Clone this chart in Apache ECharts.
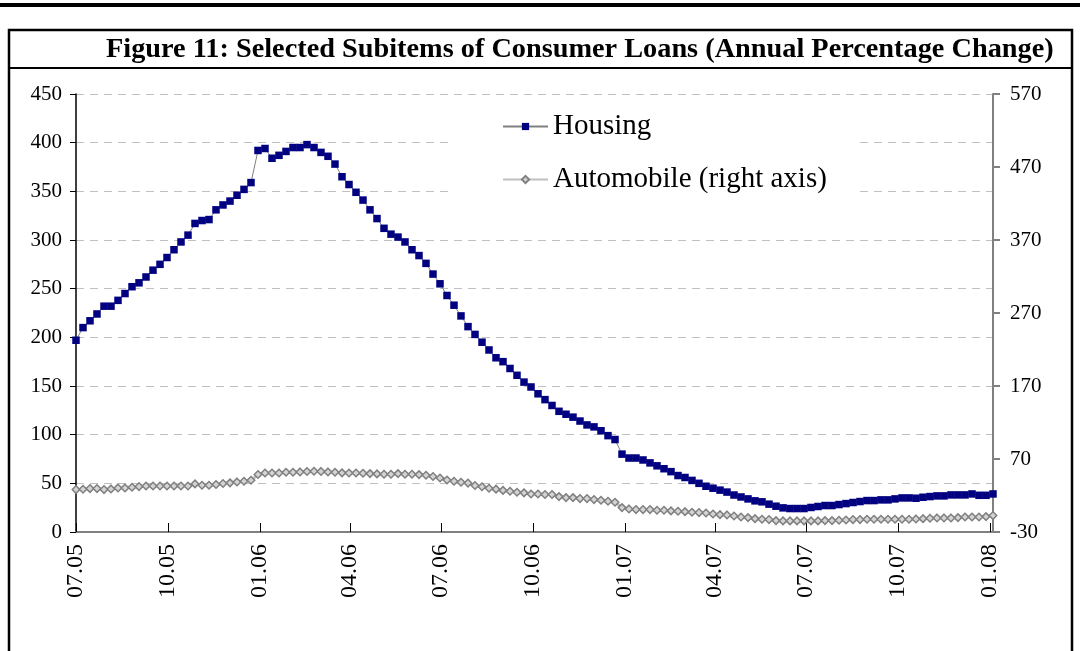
<!DOCTYPE html>
<html><head><meta charset="utf-8">
<script src="https://cdn.jsdelivr.net/npm/echarts@6/dist/echarts.min.js"></script>
<style>html,body{margin:0;padding:0;background:#fff}#c{width:1080px;height:651px}</style>
</head><body><div id="c"></div>
<script>
// Weekly observations starting at this date
const startDate = '2005-07-01';
const tickDates = ['2005-07-01','2005-10-01','2006-01-01','2006-04-01','2006-07-01','2006-10-01','2007-01-01','2007-04-01','2007-07-01','2007-10-01','2008-01-01'];
const tickLabels = ['07.05','10.05','01.06','04.06','07.06','10.06','01.07','04.07','07.07','10.07','01.08'];
const seriesNames = ['Housing', 'Automobile (right axis)'];
const housing = [
  197,210,217,224,232,232,238,245,252,256,262,269,275,282,290,298,305,317,320,321,331,336,340,346,352,359,392,394,384,387,391,395,395,
  398,395,390,386,378,365,357,349,341,331,322,312,306,303,298,290,284,276,265,255,243,233,222,211,203,195,187,179,175,168,161,154,149,
  142,136,130,124,121,118,114,110,108,104,99,95,80,76,76,74,71,68,65,62,58,56,53,50,47,45,43,41,38,36,34,32,31,
  28.6,26.5,24.8,24.1,24.1,24.1,25.2,26.2,27.2,27.2,28.2,29.2,30.3,31.3,32.3,32.3,33,33,34,35,35,34.7,35.7,36.4,37.1,37.1,38.1,38.1,38.1,39.1,37.7,37.7,39.1
];
const automobile = [
  28.1,28.6,29.5,29.5,28.1,29.0,30.4,30.4,31.3,32.2,33.1,33.1,33.1,33.1,33.1,33.1,33.1,35.9,34.1,34.1,35.0,36.4,37.3,38.6,39.5,40.9,48.7,50.9,50.9,50.9,51.8,51.8,
  52.3,52.8,53.2,53.0,52.3,51.8,51.0,50.9,50.9,50.5,50.0,49.6,49.1,49.1,50.0,49.1,49.1,48.6,47.7,46.0,44.0,41.2,39.5,38.2,37.0,33.7,32.0,30.0,28.7,27.0,25.8,24.5,23.6,22.0,
  22.0,21.3,21.3,18.5,17.1,17.1,15.8,15.8,14.4,13.5,12.1,10.7,3.4,1.6,0.7,0.7,0.7,-0.2,-0.2,-1.1,-1.6,-2.1,-3.0,-3.4,-3.9,-5.3,-6.2,-6.6,-8.0,-9.4,-10.3,-11.7,-12.6,
  -13,-14.4,-14.8,-14.8,-14.8,-14.8,-14.8,-14.8,-14.4,-14.4,-13.9,-13.5,-13,-13,-12.6,-12.6,-12.6,-12.6,-12.6,-12.6,-12.6,-12.1,-11.7,-11.2,-10.7,-10.7,-10.7,-10.3,-9.4,-9.4,-9.4,-8.9,-7.5
];

const DAY = 86400000;
const t0 = Date.parse(startDate);
const dayOf = s => (Date.parse(s) - t0) / DAY;
const weekDays = housing.map((_, i) => i * 7);
const tickDays = tickDates.map(dayOf);
const labelFor = v => { const k = tickDays.indexOf(Math.round(v)); return k >= 0 ? tickLabels[k] : ''; };

const serif = 'Liberation Serif';
const chart = echarts.init(document.getElementById('c'), null, {renderer: 'canvas'});
chart.setOption({
  animation: false,
  backgroundColor: '#fff',
  title: {
    text: 'Figure 11: Selected Subitems of Consumer Loans (Annual Percentage Change)',
    left: 101, top: 31,
    textStyle: {fontFamily: serif, fontWeight: 'bold', fontSize: 28.3, color: '#000'}
  },
  graphic: [
    {type: 'rect', shape: {x: 0, y: 3, width: 1080, height: 4}, style: {fill: '#000'}, silent: true},
    {type: 'polyline', shape: {points: [[9, 651], [9, 30], [1072, 30], [1072, 651]]}, style: {stroke: '#000', lineWidth: 2.5, fill: null}, silent: true},
    {type: 'line', shape: {x1: 9, y1: 68, x2: 1072, y2: 68}, style: {stroke: '#000', lineWidth: 2}, silent: true}
  ],
  legend: {
    data: seriesNames,
    orient: 'vertical',
    left: 453, top: 100,
    padding: [12, 30, 12, 49],
    backgroundColor: '#fff',
    itemWidth: 45, itemHeight: 9, itemGap: 24,
    textStyle: {fontFamily: serif, fontSize: 29, color: '#000'}
  },
  grid: {left: 76, right: 87, top: 94, bottom: 119, containLabel: false},
  xAxis: {
    type: 'value', min: 0, max: weekDays[weekDays.length - 1],
    splitLine: {show: false},
    axisLine: {lineStyle: {color: '#808080', width: 2}},
    axisTick: {inside: true, length: 9, lineStyle: {color: '#000', width: 1}, customValues: tickDays},
    axisLabel: {customValues: tickDays, rotate: 90, margin: 12, formatter: labelFor,
      fontFamily: serif, fontSize: 24, color: '#000'}
  },
  yAxis: [
    {type: 'value', min: 0, max: 450, interval: 50, position: 'left',
      axisLine: {show: true, lineStyle: {color: '#000', width: 1.5}},
      axisTick: {show: true, length: 6, lineStyle: {color: '#000'}},
      axisLabel: {margin: 14, fontFamily: serif, fontSize: 21, color: '#000'},
      splitLine: {show: true, lineStyle: {color: '#c0c0c0', type: [8, 6], width: 1}}},
    {type: 'value', min: -30, max: 570, interval: 100, position: 'right',
      axisLine: {show: true, lineStyle: {color: '#808080', width: 2}},
      axisTick: {show: true, length: 7, lineStyle: {color: '#808080', width: 2}},
      axisLabel: {margin: 17, fontFamily: serif, fontSize: 21, color: '#000'},
      splitLine: {show: false}}
  ],
  series: [
    {name: seriesNames[1], type: 'line', yAxisIndex: 1,
      data: automobile.map((v, i) => [weekDays[i], v]),
      symbol: 'diamond', symbolSize: 7.5, showAllSymbol: true,
      lineStyle: {color: '#c0c0c0', width: 3},
      itemStyle: {color: '#d4d4d4', borderColor: '#808080', borderWidth: 1.5}},
    {name: seriesNames[0], type: 'line', yAxisIndex: 0,
      data: housing.map((v, i) => [weekDays[i], v]),
      symbol: 'rect', symbolSize: 7.5, showAllSymbol: true,
      lineStyle: {color: '#808080', width: 1},
      itemStyle: {color: '#000080', borderColor: '#000080', borderWidth: 0}}
  ]
});
</script></body></html>
